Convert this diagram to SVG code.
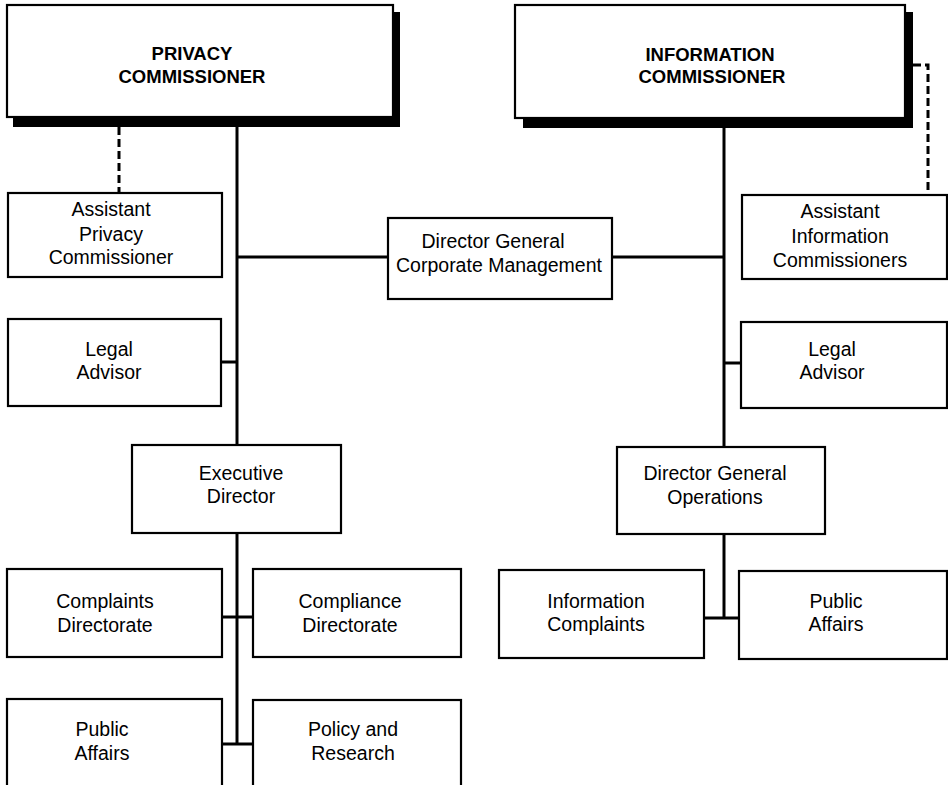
<svg xmlns="http://www.w3.org/2000/svg" width="948" height="785" viewBox="0 0 948 785">
<style>
.box{fill:#fff;stroke:#000;stroke-width:2.2}
.sh{fill:#000}
.t{font-family:"Liberation Sans",Arial,sans-serif;font-size:19.5px;fill:#000;text-anchor:middle}
.h{font-family:"Liberation Sans",Arial,sans-serif;font-size:18.5px;font-weight:bold;fill:#000;text-anchor:middle}
.c{stroke:#000;stroke-width:3;fill:none}
.d{stroke:#000;stroke-width:3;fill:none;stroke-dasharray:8 4}
</style>
<rect width="948" height="785" fill="#fff"/>
<g id="connectors">
<line class="c" x1="237" y1="127" x2="237" y2="445"/>
<line class="d" x1="119" y1="127" x2="119" y2="193"/>
<line class="c" x1="237" y1="257" x2="388" y2="257"/>
<line class="c" x1="612" y1="257" x2="724" y2="257"/>
<line class="c" x1="221" y1="362" x2="237" y2="362"/>
<line class="c" x1="237" y1="533" x2="237" y2="745"/>
<line class="c" x1="222" y1="617" x2="253" y2="617"/>
<line class="c" x1="222" y1="744" x2="253" y2="744"/>
<line class="c" x1="724" y1="128" x2="724" y2="447"/>
<line class="c" x1="724" y1="363" x2="741" y2="363"/>
<path class="d" d="M913 65 H928 V193"/>
<line class="c" x1="724" y1="534" x2="724" y2="618"/>
<line class="c" x1="704" y1="618" x2="739" y2="618"/>
</g>
<g id="privacy-commissioner">
<rect class="sh" x="13" y="12" width="387" height="115"/>
<rect class="box" x="7" y="5" width="386" height="112"/>
<text class="h" x="192" y="60">PRIVACY</text>
<text class="h" x="192" y="83">COMMISSIONER</text>
</g>
<g id="information-commissioner">
<rect class="sh" x="523" y="12" width="390" height="116"/>
<rect class="box" x="515" y="5" width="390" height="113"/>
<text class="h" x="710" y="61">INFORMATION</text>
<text class="h" x="712" y="83">COMMISSIONER</text>
</g>
<g id="assistant-privacy-commissioner">
<rect class="box" x="8" y="193" width="214" height="84"/>
<text class="t" x="111" y="216">Assistant</text>
<text class="t" x="111" y="241">Privacy</text>
<text class="t" x="111" y="264">Commissioner</text>
</g>
<g id="legal-advisor-privacy">
<rect class="box" x="8" y="319" width="213" height="87"/>
<text class="t" x="109" y="356">Legal</text>
<text class="t" x="109" y="379">Advisor</text>
</g>
<g id="dg-corporate-management">
<rect class="box" x="388" y="218" width="224" height="81"/>
<text class="t" x="493" y="248">Director General</text>
<text class="t" x="499" y="272">Corporate Management</text>
</g>
<g id="assistant-information-commissioners">
<rect class="box" x="742" y="195" width="205" height="84"/>
<text class="t" x="840" y="218">Assistant</text>
<text class="t" x="840" y="243">Information</text>
<text class="t" x="840" y="267">Commissioners</text>
</g>
<g id="legal-advisor-information">
<rect class="box" x="741" y="322" width="206" height="86"/>
<text class="t" x="832" y="356">Legal</text>
<text class="t" x="832" y="379">Advisor</text>
</g>
<g id="executive-director">
<rect class="box" x="132" y="445" width="209" height="88"/>
<text class="t" x="241" y="480">Executive</text>
<text class="t" x="241" y="503">Director</text>
</g>
<g id="dg-operations">
<rect class="box" x="617" y="447" width="208" height="87"/>
<text class="t" x="715" y="480">Director General</text>
<text class="t" x="715" y="504">Operations</text>
</g>
<g id="complaints-directorate">
<rect class="box" x="7" y="569" width="215" height="88"/>
<text class="t" x="105" y="608">Complaints</text>
<text class="t" x="105" y="632">Directorate</text>
</g>
<g id="compliance-directorate">
<rect class="box" x="253" y="569" width="208" height="88"/>
<text class="t" x="350" y="608">Compliance</text>
<text class="t" x="350" y="632">Directorate</text>
</g>
<g id="information-complaints">
<rect class="box" x="499" y="570" width="205" height="88"/>
<text class="t" x="596" y="608">Information</text>
<text class="t" x="596" y="631">Complaints</text>
</g>
<g id="public-affairs-information">
<rect class="box" x="739" y="571" width="208" height="88"/>
<text class="t" x="836" y="608">Public</text>
<text class="t" x="836" y="631">Affairs</text>
</g>
<g id="public-affairs-privacy">
<rect class="box" x="7" y="699" width="215" height="110"/>
<text class="t" x="102" y="736">Public</text>
<text class="t" x="102" y="760">Affairs</text>
</g>
<g id="policy-and-research">
<rect class="box" x="253" y="700" width="208" height="110"/>
<text class="t" x="353" y="736">Policy and</text>
<text class="t" x="353" y="760">Research</text>
</g>
</svg>
